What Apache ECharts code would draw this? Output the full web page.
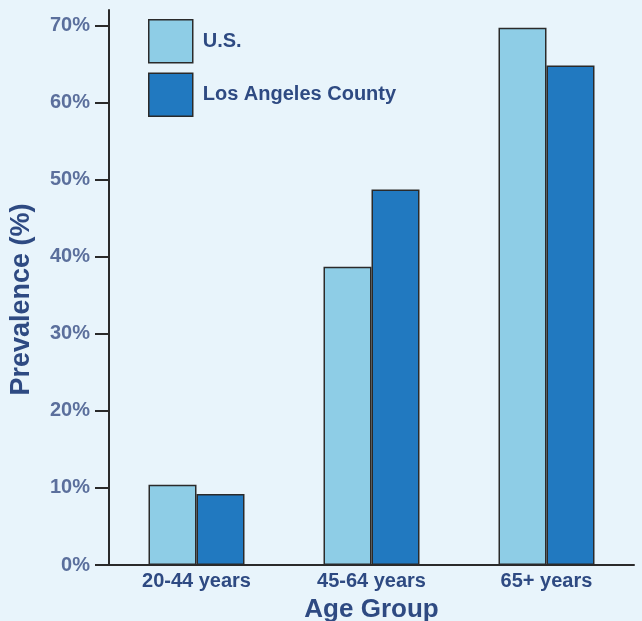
<!DOCTYPE html>
<html>
<head>
<meta charset="utf-8">
<script src="https://cdn.jsdelivr.net/npm/echarts@6/dist/echarts.min.js"></script>
<style>
html, body { margin: 0; padding: 0; background: #e8f4fb; }
#chart { width: 642px; height: 621px; }
</style>
</head>
<body>
<div id="chart"></div>
<script>
// 年龄组与患病率
var ageGroups = ['20-44 years', '45-64 years', '65+ years'];
var usValues = [10.4, 38.7, 69.7];
var laValues = [9.2, 48.7, 64.8];
var seriesNames = ['U.S.', 'Los Angeles County'];

(function(){
	var myChart = echarts.init(document.getElementById('chart'));

	option = {
    backgroundColor: '#e8f4fb',
    textStyle: {
        fontFamily: 'Liberation Sans, Arial, sans-serif'
    },
    legend: {
        orient: 'vertical',
        left: 148,
        top: 19,
        padding: 0,
        itemWidth: 44,
        itemHeight: 43,
        itemGap: 9,
        icon: 'rect',
        itemStyle: {
            borderColor: '#2a2a2a',
            borderWidth: 1.5
        },
        textStyle: {
            color: '#2e4a82',
            fontSize: 20,
            fontWeight: 'bold',
            padding: [0, 0, 0, 5]
        },
        data: seriesNames
    },
    grid: {
        left: 109,
        right: 8,
        top: 10,
        bottom: 56,
        outerBoundsMode: 'none',
        containLabel: false
    },
    xAxis: {
        type: 'category',
        data: ageGroups,
        name: 'Age Group',
        nameLocation: 'middle',
        nameGap: 32,
        nameTextStyle: {
            color: '#2e4a82',
            fontSize: 26,
            fontWeight: 'bold'
        },
        axisLine: { lineStyle: { color: '#2a2a2a', width: 2 } },
        axisTick: { show: false },
        axisLabel: {
            color: '#2e4a82',
            fontSize: 20,
            fontWeight: 'bold',
            margin: 6
        }
    },
    yAxis: {
        type: 'value',
        min: 0,
        max: 72,
        interval: 10,
        name: 'Prevalence (%)',
        nameLocation: 'middle',
        nameGap: 74,
        nameTextStyle: {
            color: '#2e4a82',
            fontSize: 27,
            fontWeight: 'bold',
            padding: [0, 24, 0, 0]
        },
        splitLine: { show: false },
        axisLine: { show: true, lineStyle: { color: '#2a2a2a', width: 2 } },
        axisTick: { show: true, inside: false, length: 14, lineStyle: { color: '#2a2a2a', width: 2 } },
        axisLabel: {
            formatter: '{value}%',
            color: '#5b6f9c',
            fontSize: 20,
            fontWeight: 'bold',
            margin: 19
        }
    },
    series: [
        {
            name: seriesNames[0],
            type: 'bar',
            barWidth: 48,
            barGap: 0,
            itemStyle: { color: '#8ecde6', borderColor: '#2a2a2a', borderWidth: 1.5 },
            data: usValues
        },
        {
            name: seriesNames[1],
            type: 'bar',
            barWidth: 48,
            barGap: 0,
            itemStyle: { color: '#2179c0', borderColor: '#2a2a2a', borderWidth: 1.5 },
            data: laValues
        }
    ]
};

	myChart.setOption(option);
})();
</script>
</body>
</html>
